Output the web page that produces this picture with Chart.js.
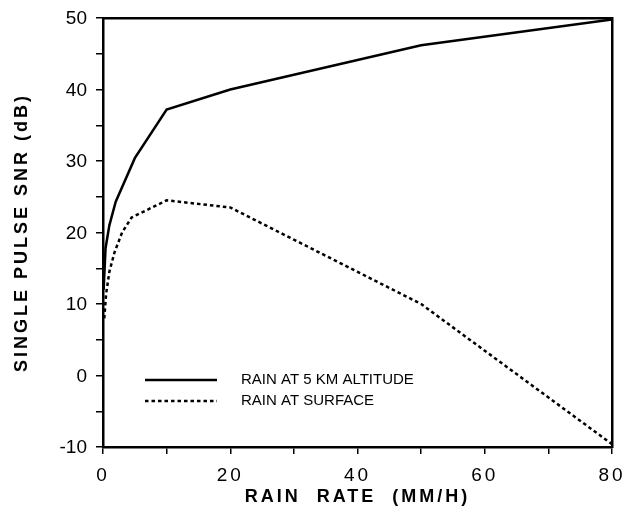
<!DOCTYPE html>
<html>
<head>
<meta charset="utf-8">
<script src="https://cdn.jsdelivr.net/npm/chart.js@4/dist/chart.umd.min.js"></script>
<style>
  html, body { margin: 0; padding: 0; background: #fff; }
  #wrap { width: 637px; height: 523px; }
</style>
</head>
<body>
<div id="wrap"><canvas id="c" width="637" height="523"></canvas></div>
<script>
// rain rate (mm/h) and single pulse SNR (dB)
const altRate = [0.1, 0.4, 1, 2, 5, 10, 20, 50, 80];
const altSnr = [12, 17.8, 21, 24.3, 30.4, 37.2, 40, 46.2, 49.8];
const surfRate = [0.2, 0.5, 1, 1.8, 3, 4.5, 10, 20, 50, 80];
const surfSnr = [8, 11.5, 14.5, 17.2, 20, 22.1, 24.5, 23.5, 10, -9.6];
const seriesNames = ['RAIN AT 5 KM ALTITUDE', 'RAIN AT SURFACE'];

const pts = (xs, ys) => xs.map((x, i) => ({ x, y: ys[i] }));
const FONT = 'Liberation Sans, Arial, Helvetica, sans-serif';

// wide tracking for titles and x labels, y labels and legend drawn here
const boxLegend = {
    id: 'boxLegend',
    beforeDraw(chart) {
        chart.ctx.letterSpacing = '3px';
    },
    beforeDatasetsDraw(chart) {
        const { ctx } = chart;
        ctx.letterSpacing = '0px';
        const ys = chart.scales.y;
        ctx.save();
        ctx.fillStyle = '#000';
        ctx.font = '19px ' + FONT;
        ctx.textAlign = 'right';
        ctx.textBaseline = 'middle';
        ys.ticks.forEach(t => {
            if (t.value % 10 !== 0) return;
            ctx.fillText(String(t.value), ys.right - 16, ys.getPixelForValue(t.value) + 1);
        });
        ctx.restore();
    },
    afterDatasetsDraw(chart) {
        const { ctx, chartArea } = chart;
        const x0 = chartArea.left + 42;
        let y = chartArea.bottom - 67;
        ctx.save();
        ctx.letterSpacing = '0px';
        chart.data.datasets.forEach(ds => {
            ctx.beginPath();
            ctx.strokeStyle = ds.borderColor;
            ctx.lineWidth = ds.borderWidth;
            ctx.setLineDash(ds.borderDash || []);
            ctx.moveTo(x0, y);
            ctx.lineTo(x0 + 72, y);
            ctx.stroke();
            ctx.setLineDash([]);
            ctx.fillStyle = '#000';
            ctx.font = '15px ' + FONT;
            ctx.textBaseline = 'middle';
            ctx.fillText(ds.label, x0 + 96, y);
            y += 21;
        });
        ctx.restore();
    }
};

const axisGrid = {
    display: true,
    drawOnChartArea: false,
    drawTicks: true,
    tickLength: 7,
    color: '#000',
    lineWidth: 1.5,
};

new Chart(document.getElementById('c'), {
    type: 'line',
    data: {
        datasets: [{
            label: seriesNames[0],
            data: pts(altRate, altSnr),
            borderColor: '#000',
            borderWidth: 2.5,
            pointRadius: 0,
            tension: 0,
        }, {
            label: seriesNames[1],
            data: pts(surfRate, surfSnr),
            borderColor: '#000',
            borderWidth: 2.5,
            borderDash: [3.5, 3],
            pointRadius: 0,
            tension: 0,
        }]
    },
    options: {
        responsive: false,
        animation: false,
        layout: { padding: 0 },
        plugins: {
            legend: { display: false },
            tooltip: { enabled: false },
        },
        scales: {
            x: {
                type: 'linear',
                position: 'bottom',
                min: 0,
                max: 80,
                afterFit: s => { s.height = 76; },
                ticks: {
                    stepSize: 10,
                    autoSkip: false,
                    maxRotation: 0,
                    padding: 10,
                    color: '#000',
                    font: { family: FONT, size: 19 },
                    callback: v => (v % 20 === 0 ? String(v) : ''),
                },
                grid: axisGrid,
                border: { display: true, color: '#000', width: 2.5 },
                title: {
                    display: true,
                    text: 'RAIN  RATE  (MM/H)',
                    color: '#000',
                    font: { family: FONT, size: 18, weight: 'bold' },
                    padding: { top: 0, bottom: 15 },
                },
            },
            y: {
                type: 'linear',
                position: 'left',
                min: -10,
                max: 50,
                afterFit: s => { s.width = 103; },
                ticks: {
                    stepSize: 5,
                    autoSkip: false,
                    display: false,
                },
                grid: axisGrid,
                border: { display: true, color: '#000', width: 2.5 },
                title: {
                    display: true,
                    text: 'SINGLE PULSE SNR (dB)',
                    color: '#000',
                    font: { family: FONT, size: 18, weight: 'bold' },
                    padding: { top: 11 },
                },
            },
            x2: {
                type: 'linear',
                position: 'top',
                min: 0,
                max: 80,
                afterFit: s => { s.height = 18; },
                ticks: { display: false },
                grid: { display: false },
                border: { display: true, color: '#000', width: 2.5 },
            },
            y2: {
                type: 'linear',
                position: 'right',
                min: -10,
                max: 50,
                afterFit: s => { s.width = 25; },
                ticks: { display: false },
                grid: { display: false },
                border: { display: true, color: '#000', width: 2.5 },
            },
        }
    },
    plugins: [boxLegend]
});
</script>
</body>
</html>
